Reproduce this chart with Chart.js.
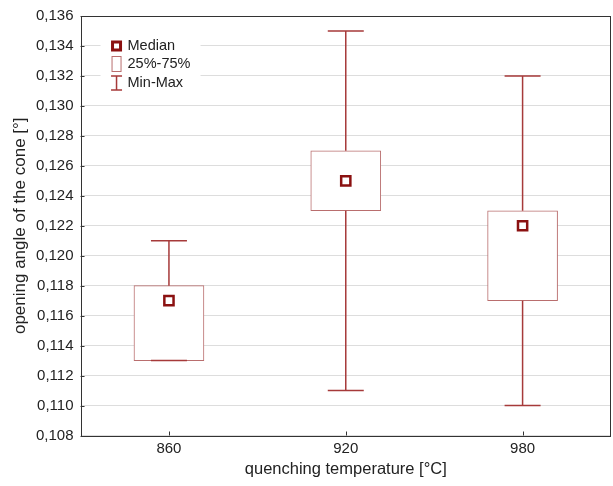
<!DOCTYPE html>
<html>
<head>
<meta charset="utf-8">
<script src="https://cdn.jsdelivr.net/npm/chart.js@4"></script>
<style>
  html, body { margin: 0; padding: 0; background: #fff; overflow: hidden; }
  #wrap { position: absolute; left: 0; top: 0; width: 613px; height: 486px; }
  #boxChart { display: block; }
</style>
</head>
<body>
<div id="wrap"><canvas id="boxChart"></canvas></div>
<script>
const temps = ['860', '920', '980'];
const minVals = [0.113, 0.111, 0.110];
const q1Vals = [0.113, 0.123, 0.117];
const medianVals = [0.117, 0.125, 0.122];
const q3Vals = [0.118, 0.127, 0.123];
const maxVals = [0.121, 0.135, 0.132];
const legendLabels = ['Median', '25%-75%', 'Min-Max'];

const boxColor = '#b96e6e';
const whiskerColor = '#a63a3a';
const medianColor = '#8b1111';
const fontFamily = '"Liberation Sans", Arial, sans-serif';

// whiskers, frame and the legend box inside the plot
const boxExtras = {
  id: 'boxExtras',
  afterDatasetsDraw(chart) {
    const { ctx, scales } = chart;
    const x = scales.x, y = scales.y;
    ctx.save();
    ctx.strokeStyle = whiskerColor;
    ctx.lineWidth = 1.5;
    temps.forEach((t, i) => {
      const cx = x.getPixelForValue(i);
      const half = 18;
      ctx.beginPath();
      ctx.moveTo(cx, y.getPixelForValue(q3Vals[i]));
      ctx.lineTo(cx, y.getPixelForValue(maxVals[i]));
      ctx.moveTo(cx, y.getPixelForValue(q1Vals[i]));
      ctx.lineTo(cx, y.getPixelForValue(minVals[i]));
      ctx.moveTo(cx - half, y.getPixelForValue(maxVals[i]));
      ctx.lineTo(cx + half, y.getPixelForValue(maxVals[i]));
      ctx.moveTo(cx - half, y.getPixelForValue(minVals[i]));
      ctx.lineTo(cx + half, y.getPixelForValue(minVals[i]));
      ctx.stroke();
    });
    ctx.restore();
  },
  afterDraw(chart) {
    const { ctx, chartArea, scales } = chart;
    ctx.save();
    // legend
    const lx = chartArea.left + 20, ly = chartArea.top + 19;
    ctx.fillStyle = '#fff';
    ctx.fillRect(lx, ly, 100, 58);
    ctx.font = '14.5px ' + fontFamily;
    ctx.textBaseline = 'middle';
    ctx.fillStyle = '#222';
    const rows = [ly + 11, ly + 29, ly + 48];
    legendLabels.forEach((lab, i) => ctx.fillText(lab, lx + 27, rows[i]));
    const mx = lx + 16;
    ctx.strokeStyle = medianColor;
    ctx.lineWidth = 3;
    ctx.strokeRect(mx - 4, rows[0] - 4, 8, 8);
    ctx.strokeStyle = boxColor;
    ctx.lineWidth = 1;
    ctx.strokeRect(mx - 4.5, rows[1] - 7.5, 9, 15);
    ctx.strokeStyle = whiskerColor;
    ctx.lineWidth = 1.5;
    ctx.beginPath();
    ctx.moveTo(mx, rows[2] - 7); ctx.lineTo(mx, rows[2] + 7);
    ctx.moveTo(mx - 5.5, rows[2] - 7); ctx.lineTo(mx + 5.5, rows[2] - 7);
    ctx.moveTo(mx - 5.5, rows[2] + 7); ctx.lineTo(mx + 5.5, rows[2] + 7);
    ctx.stroke();
    // small inside tick marks
    ctx.strokeStyle = '#333';
    ctx.lineWidth = 1;
    ctx.beginPath();
    scales.y.ticks.forEach(tk => {
      const py = Math.round(scales.y.getPixelForValue(tk.value)) + 0.5;
      ctx.moveTo(chartArea.left, py); ctx.lineTo(chartArea.left + 4, py);
    });
    temps.forEach((t, i) => {
      const px = Math.round(scales.x.getPixelForValue(i)) + 0.5;
      ctx.moveTo(px, chartArea.bottom); ctx.lineTo(px, chartArea.bottom - 4);
    });
    ctx.stroke();
    // frame
    ctx.strokeRect(Math.round(chartArea.left) + 0.5, Math.round(chartArea.top) + 0.5,
      Math.round(chartArea.right - chartArea.left) - 1, Math.round(chartArea.bottom - chartArea.top));
    ctx.restore();
  }
};

new Chart(document.getElementById('boxChart'), {
  type: 'bar',
  data: {
    labels: temps,
    datasets: [
      {
        type: 'line',
        label: 'Median',
        data: medianVals,
        showLine: false,
        pointStyle: 'rect',
        pointRadius: 6.5,
        pointBorderWidth: 2.5,
        pointBackgroundColor: '#fff',
        pointBorderColor: medianColor,
        order: 0
      },
      {
        label: '25%-75%',
        data: temps.map((t, i) => [q1Vals[i], q3Vals[i]]),
        backgroundColor: '#fff',
        borderColor: boxColor,
        borderWidth: 1,
        borderSkipped: false,
        barThickness: 70,
        order: 2
      }
    ]
  },
  options: {
    responsive: true,
    maintainAspectRatio: false,
    animation: false,
    layout: { autoPadding: false, padding: { top: 7, right: 2, left: 6, bottom: 8 } },
    plugins: {
      legend: { display: false },
      tooltip: { enabled: false }
    },
    scales: {
      x: {
        offset: true,
        grid: { display: false, drawTicks: false },
        border: { display: false },
        ticks: { color: '#222', padding: 4, font: { family: fontFamily, size: 15 } },
        title: {
          display: true,
          text: 'quenching temperature [°C]',
          color: '#222',
          padding: { top: 0, bottom: 0 },
          font: { family: fontFamily, size: 16.5, lineHeight: 1 }
        }
      },
      y: {
        min: 0.108,
        max: 0.136,
        grid: { color: '#dddddd', drawTicks: false },
        border: { display: false },
        ticks: {
          stepSize: 0.002,
          color: '#222',
          padding: 7,
          font: { family: fontFamily, size: 15 },
          callback: v => v.toFixed(3).replace('.', ',')
        },
        title: {
          display: true,
          text: 'opening angle of the cone [°]',
          color: '#222',
          padding: { top: 6, bottom: 0 },
          font: { family: fontFamily, size: 17, lineHeight: 1 }
        }
      }
    }
  },
  plugins: [boxExtras]
});
</script>
</body>
</html>
